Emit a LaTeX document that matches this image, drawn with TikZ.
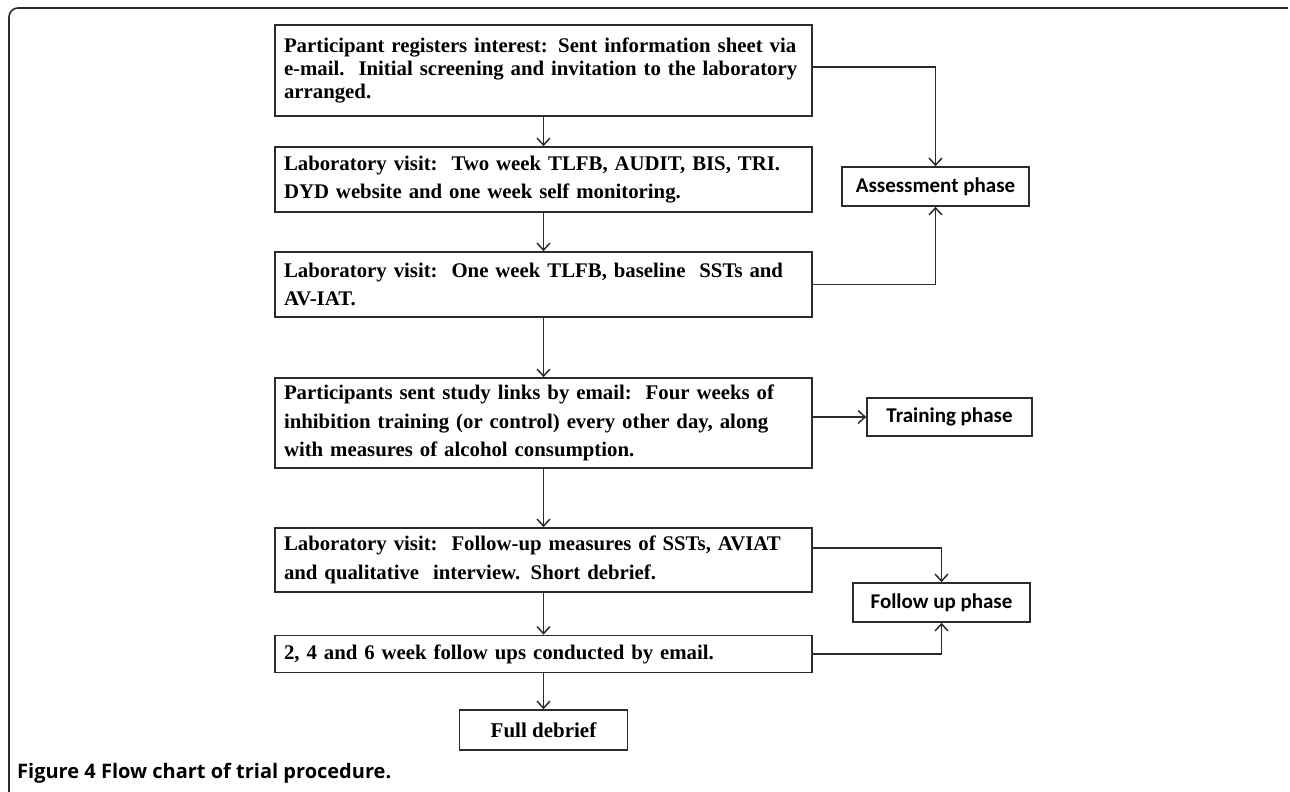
\documentclass[tikz,border=0pt]{standalone}
\usepackage{fontspec}
\setmainfont{Liberation Serif}
\newfontfamily\calfont{Carlito}
\newfontfamily\capfont{Open Sans}
\usetikzlibrary{arrows.meta}
\definecolor{linec}{HTML}{2B2B2B}
\begin{document}
\begin{tikzpicture}[x=1pt,y=-1pt,
  mainbox/.style={draw=linec, line width=1.7pt, fill=white, inner xsep=9pt, inner ysep=0pt,
    text width=519pt, minimum width=537pt, align=left,
    font=\bfseries\fontsize{20.8}{28.5}\selectfont},
  phasebox/.style={draw=linec, line width=1.7pt, fill=white, inner sep=0pt,
    font=\calfont\bfseries\fontsize{21}{24}\selectfont},
  arr/.style={draw=linec, line width=1.5pt, -{Straight Barb[length=7pt,width=13pt]}},
  frameline/.style={draw=linec, line width=1.6pt, rounded corners=9pt}
]
\useasboundingbox (0,0) rectangle (1290,792);
\fill[white] (0,0) rectangle (1290,792);
\draw[frameline] (9,792) -- (9,8) -- (1288,8);

\node[mainbox, minimum height=91pt, font=\bfseries\fontsize{20.8}{23}\selectfont] (b1) at (543.5,70.5)
  {Participant registers interest: Sent information sheet via e-mail.\ \ Initial screening and invitation to the laboratory arranged.};
\node[mainbox, minimum height=65pt] (b2) at (543.5,179.5)
  {Laboratory visit:\ \ Two week TLFB, AUDIT, BIS, TRI.\\ DYD website and one week self monitoring.};
\node[mainbox, minimum height=65pt] (b3) at (543.5,284.5)
  {Laboratory visit:\ \ One week TLFB, baseline\ \ SSTs and\\ AV-IAT.};
\node[mainbox, minimum height=90pt] (b4) at (543.5,423)
  {Participants sent study links by email:\ \ Four weeks of\\ inhibition training (or control) every other day, along\\ with measures of alcohol consumption.};
\node[mainbox, minimum height=64pt] (b5) at (543.5,560)
  {Laboratory visit:\ \ Follow-up measures of SSTs, AVIAT\\ and qualitative\ \ interview. Short debrief.};
\node[mainbox, minimum height=37pt] (b6) at (543.5,654)
  {2, 4 and 6 week follow ups conducted by email.};
\node[draw=linec, line width=1.7pt, minimum width=168pt, minimum height=40pt, inner sep=0pt,
  font=\bfseries\fontsize{21}{24}\selectfont] (fd) at (543.5,730) {Full debrief};

\node[phasebox, minimum width=187pt, minimum height=39pt] (assess) at (935.5,186.5) {Assessment phase};
\node[phasebox, minimum width=165pt, minimum height=38pt] (train) at (949.5,417) {Training phase};
\node[phasebox, minimum width=177pt, minimum height=39pt] (follow) at (941.5,602.5) {Follow up phase};

\draw[arr] (b1) -- (b2);
\draw[arr] (b2) -- (b3);
\draw[arr] (b3) -- (b4);
\draw[arr] (b4) -- (b5);
\draw[arr] (b5) -- (b6);
\draw[arr] (b6) -- (fd);

\draw[arr] ([yshift=3.5pt]b1.east) -| (assess.north);
\draw[arr] (b3.east) -| (assess.south);
\draw[arr] (b4.east |- train.west) -- (train.west);
\draw[arr] ([yshift=12pt]b5.east) -| (follow.north);
\draw[arr] (b6.east) -| (follow.south);

\node[anchor=base west, inner sep=0pt, font=\capfont\bfseries\fontsize{20}{23}\selectfont] (cap) at (17,778)
  {Figure 4 Flow chart of trial procedure.};
\end{tikzpicture}
\end{document}
